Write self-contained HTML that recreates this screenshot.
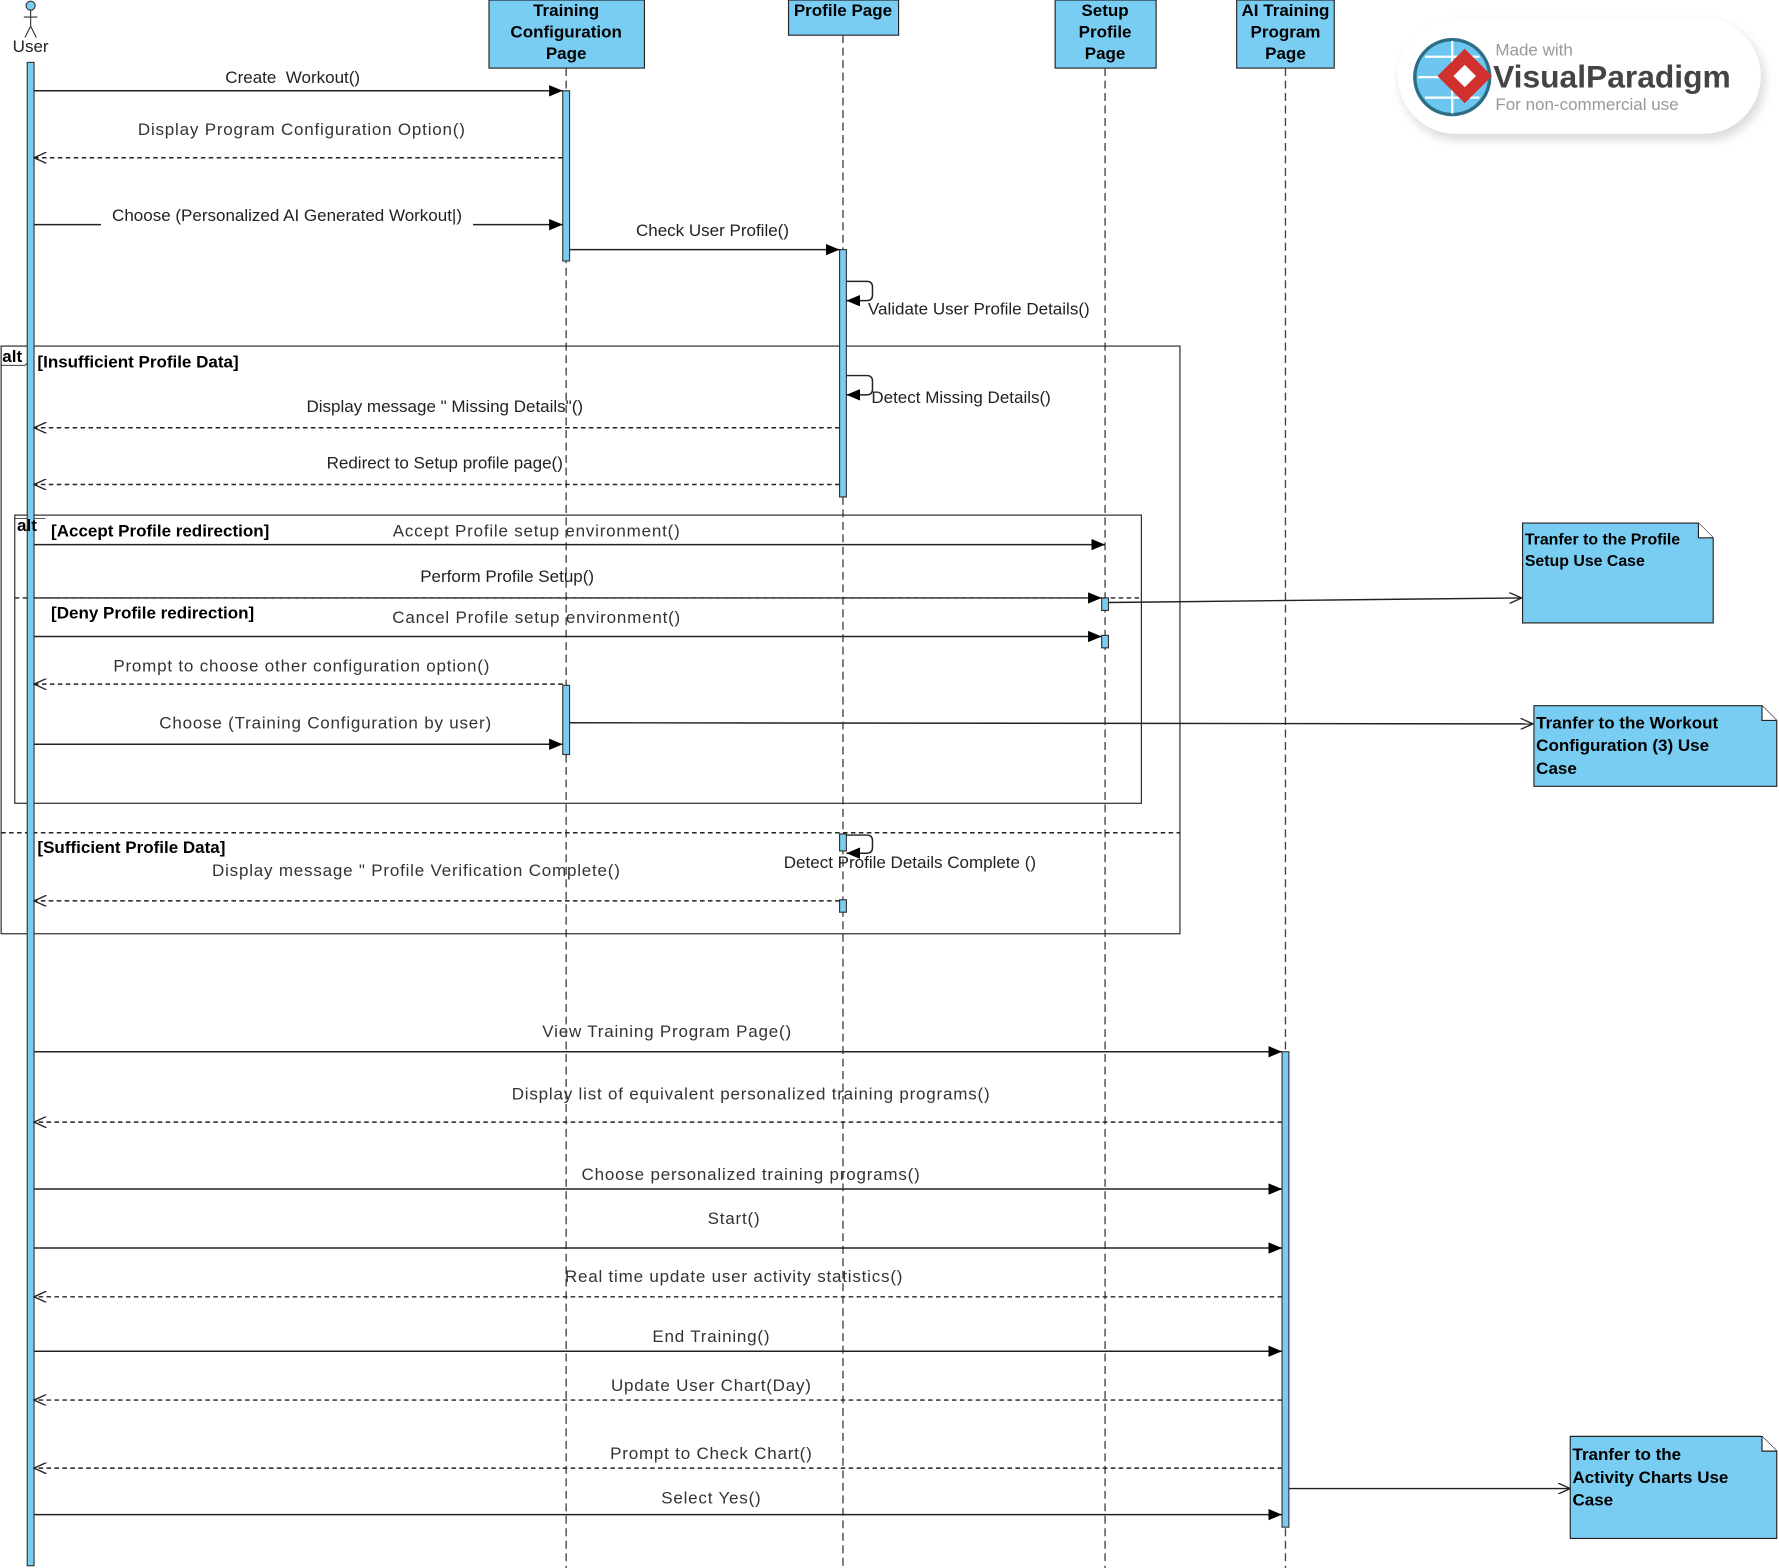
<!DOCTYPE html>
<html><head><meta charset="utf-8"><style>
html,body{margin:0;padding:0;background:#fff;}
svg{display:block;}
text{font-family:"Liberation Sans",sans-serif;font-size:15px;fill:#222;white-space:pre;}
.b{font-weight:bold;fill:#000;}
.c{text-anchor:middle;}
.w{letter-spacing:0.7px;fill:#333;}
.ll{stroke:#444;stroke-width:1.2;stroke-dasharray:7,4;fill:none;}
.s{stroke:#222;stroke-width:1.3;fill:none;}
.d{stroke:#222;stroke-width:1.3;stroke-dasharray:4,3;fill:none;}
.act{fill:#7acdf2;stroke:#333;stroke-width:1;}
.box{fill:#7acdf2;stroke:#222;stroke-width:1;}
</style></head><body>
<svg width="1779" height="1568" viewBox="0 0 1568 1382" xmlns="http://www.w3.org/2000/svg">
<defs>
<marker id="f" markerWidth="12" markerHeight="10" refX="12" refY="5" orient="auto" markerUnits="userSpaceOnUse"><path d="M0,0 L12,5 L0,10 z" fill="#000"/></marker>
<marker id="o" markerWidth="12" markerHeight="10" refX="11" refY="5" orient="auto" markerUnits="userSpaceOnUse"><path d="M0,0 L11,5 L0,10" fill="none" stroke="#222" stroke-width="1.2"/></marker>
<filter id="sh" x="-20%" y="-30%" width="140%" height="160%"><feGaussianBlur stdDeviation="4"/></filter>
</defs>

<!-- logo -->
<rect x="1234" y="20" width="322" height="104" rx="52" fill="#ddd" filter="url(#sh)"/>
<rect x="1232" y="16" width="320" height="102" rx="51" fill="#fff"/>
<circle cx="1280" cy="68" r="33" fill="#6cc6f0" stroke="#2d6e86" stroke-width="3"/>
<path d="M1250,68 H1310 M1280,36 V100 M1256,50 H1304 M1256,86 H1304" stroke="#fff" stroke-width="2"/>
<rect x="1274" y="50" width="34" height="34" transform="rotate(45 1291 67)" fill="#d0312d"/>
<rect x="1284" y="60" width="14" height="14" transform="rotate(45 1291 67)" fill="#fff"/>
<text x="1318" y="49" style="font-size:15px;fill:#999">Made with</text>
<text x="1316" y="77" style="font-size:28px;font-weight:bold;fill:#444">VisualParadigm</text>
<text x="1318" y="97" style="font-size:15px;fill:#999">For non-commercial use</text>

<!-- actor -->
<circle cx="27" cy="5" r="4" fill="#7acdf2" stroke="#333"/>
<path d="M27,9 V23 M21,15 H33 M27,23 L22,33 M27,23 L32,33" stroke="#333" fill="none"/>
<text x="27" y="46" class="c">User</text>

<!-- lifeline heads -->
<rect class="box" x="431" y="0" width="137" height="60"/>
<text x="499" y="14" class="c b">Training</text><text x="499" y="33" class="c b">Configuration</text><text x="499" y="52" class="c b">Page</text>
<rect class="box" x="695" y="0" width="97" height="31"/>
<text x="743" y="14" class="c b">Profile Page</text>
<rect class="box" x="930" y="0" width="89" height="60"/>
<text x="974" y="14" class="c b">Setup</text><text x="974" y="33" class="c b">Profile</text><text x="974" y="52" class="c b">Page</text>
<rect class="box" x="1090" y="0" width="86" height="60"/>
<text x="1133" y="14" class="c b">AI Training</text><text x="1133" y="33" class="c b">Program</text><text x="1133" y="52" class="c b">Page</text>

<!-- lifelines -->
<line class="ll" x1="499" y1="60" x2="499" y2="1382"/>
<line class="ll" x1="743" y1="31" x2="743" y2="1382"/>
<line class="ll" x1="974" y1="60" x2="974" y2="1382"/>
<line class="ll" x1="1133" y1="60" x2="1133" y2="1382"/>

<!-- frames -->
<rect x="1" y="305" width="1039" height="518" fill="none" stroke="#222" stroke-width="1"/>
<path d="M1,322 H22 L30,314 V305" fill="none" stroke="#222" stroke-width="0.8"/>
<text x="33" y="324" class="b">[Insufficient Profile Data]</text>
<line x1="1" y1="734" x2="1040" y2="734" class="d" stroke-width="1"/>
<text x="33" y="752" class="b">[Sufficient Profile Data]</text>

<rect x="13" y="454" width="993" height="254" fill="none" stroke="#222" stroke-width="1"/>
<path d="M13,457 H40" fill="none" stroke="#222" stroke-width="0.6"/>
<text x="45" y="473" class="b">[Accept Profile redirection]</text>
<line x1="13" y1="527" x2="1006" y2="527" class="d" stroke-width="1"/>
<text x="45" y="545" class="b">[Deny Profile redirection]</text>

<!-- activations -->
<rect class="act" x="24" y="55" width="6" height="1325"/>
<rect class="act" x="496" y="80" width="6" height="150"/>
<rect class="act" x="740" y="220" width="6" height="218"/>
<rect class="act" x="740" y="735" width="6" height="15"/>
<rect class="act" x="740" y="793" width="6" height="11"/>
<rect class="act" x="971" y="527" width="6" height="11"/>
<rect class="act" x="971" y="560" width="6" height="11"/>
<rect class="act" x="496" y="604" width="6" height="61"/>
<rect class="act" x="1130" y="927" width="6" height="419"/>

<text x="2" y="319" class="b">alt</text>
<text x="15" y="468" class="b">alt</text>

<!-- messages -->
<line class="s" x1="30" y1="80" x2="496" y2="80" marker-end="url(#f)"/>
<text x="258" y="73" class="c">Create  Workout()</text>
<line class="d" x1="496" y1="139" x2="30" y2="139" marker-end="url(#o)"/>
<text x="266" y="119" class="c w">Display Program Configuration Option()</text>
<line class="s" x1="30" y1="198" x2="496" y2="198" marker-end="url(#f)"/>
<rect x="89" y="181" width="328" height="20" fill="#fff"/>
<text x="253" y="195" class="c">Choose (Personalized AI Generated Workout|)</text>
<line class="s" x1="502" y1="220" x2="740" y2="220" marker-end="url(#f)"/>
<text x="628" y="208" class="c">Check User Profile()</text>
<path class="s" d="M746,248 H764 Q769,248 769,253 V260 Q769,265 764,265 H746" marker-end="url(#f)"/>
<text x="765" y="277">Validate User Profile Details()</text>
<path class="s" d="M746,331 H764 Q769,331 769,336 V343 Q769,348 764,348 H746" marker-end="url(#f)"/>
<text x="768" y="355">Detect Missing Details()</text>
<line class="d" x1="740" y1="377" x2="30" y2="377" marker-end="url(#o)"/>
<text x="392" y="363" class="c">Display message " Missing Details"()</text>
<line class="d" x1="740" y1="427" x2="30" y2="427" marker-end="url(#o)"/>
<text x="392" y="413" class="c">Redirect to Setup profile page()</text>

<line class="s" x1="30" y1="480" x2="974" y2="480" marker-end="url(#f)"/>
<text x="473" y="473" class="c w">Accept Profile setup environment()</text>
<line class="s" x1="30" y1="527" x2="971" y2="527" marker-end="url(#f)" stroke-dasharray="4,3"/>
<text x="447" y="513" class="c">Perform Profile Setup()</text>
<line class="s" x1="30" y1="561" x2="971" y2="561" marker-end="url(#f)"/>
<text x="473" y="549" class="c w">Cancel Profile setup environment()</text>
<line class="d" x1="496" y1="603" x2="30" y2="603" marker-end="url(#o)"/>
<text x="266" y="592" class="c w">Prompt to choose other configuration option()</text>
<line class="s" x1="30" y1="656" x2="496" y2="656" marker-end="url(#f)"/>
<text x="287" y="642" class="c w">Choose (Training Configuration by user)</text>
<line class="s" x1="502" y1="637" x2="1351" y2="638" marker-end="url(#o)" stroke-width="1"/>
<line class="s" x1="977" y1="531" x2="1341" y2="527" marker-end="url(#o)" stroke-width="1"/>

<path class="s" d="M746,736 H764 Q769,736 769,741 V747 Q769,752 764,752 H746" marker-end="url(#f)"/>
<text x="802" y="765" class="c">Detect Profile Details Complete ()</text>
<line class="d" x1="740" y1="794" x2="30" y2="794" marker-end="url(#o)"/>
<text x="367" y="772" class="c w">Display message " Profile Verification Complete()</text>

<line class="s" x1="30" y1="927" x2="1130" y2="927" marker-end="url(#f)"/>
<text x="588" y="914" class="c w">View Training Program Page()</text>
<line class="d" x1="1130" y1="989" x2="30" y2="989" marker-end="url(#o)"/>
<text x="662" y="969" class="c w">Display list of equivalent personalized training programs()</text>
<line class="s" x1="30" y1="1048" x2="1130" y2="1048" marker-end="url(#f)"/>
<text x="662" y="1040" class="c w">Choose personalized training programs()</text>
<line class="s" x1="30" y1="1100" x2="1130" y2="1100" marker-end="url(#f)"/>
<text x="647" y="1079" class="c w">Start()</text>
<line class="d" x1="1130" y1="1143" x2="30" y2="1143" marker-end="url(#o)"/>
<text x="647" y="1130" class="c w">Real time update user activity statistics()</text>
<line class="s" x1="30" y1="1191" x2="1130" y2="1191" marker-end="url(#f)"/>
<text x="627" y="1183" class="c w">End Training()</text>
<line class="d" x1="1130" y1="1234" x2="30" y2="1234" marker-end="url(#o)"/>
<text x="627" y="1226" class="c w">Update User Chart(Day)</text>
<line class="d" x1="1130" y1="1294" x2="30" y2="1294" marker-end="url(#o)"/>
<text x="627" y="1286" class="c w">Prompt to Check Chart()</text>
<line class="s" x1="30" y1="1335" x2="1130" y2="1335" marker-end="url(#f)"/>
<text x="627" y="1325" class="c w">Select Yes()</text>
<line class="s" x1="1136" y1="1312" x2="1384" y2="1312" marker-end="url(#o)" stroke-width="1"/>

<!-- notes -->
<path d="M1342,461 H1497 L1510,474 V549 H1342 Z" fill="#7acdf2" stroke="#222"/>
<path d="M1497,461 V474 H1510" fill="#fff" stroke="#222"/>
<text x="1344" y="480" class="b" style="font-size:14px">Tranfer to the Profile</text>
<text x="1344" y="499" class="b" style="font-size:14px">Setup Use Case</text>

<path d="M1352,622 H1553 L1566,635 V693 H1352 Z" fill="#7acdf2" stroke="#222"/>
<path d="M1553,622 V635 H1566" fill="#fff" stroke="#222"/>
<text x="1354" y="642" class="b">Tranfer to the Workout</text>
<text x="1354" y="662" class="b">Configuration (3) Use</text>
<text x="1354" y="682" class="b">Case</text>

<path d="M1384,1266 H1553 L1566,1279 V1356 H1384 Z" fill="#7acdf2" stroke="#222"/>
<path d="M1553,1266 V1279 H1566" fill="#fff" stroke="#222"/>
<text x="1386" y="1287" class="b">Tranfer to the</text>
<text x="1386" y="1307" class="b">Activity Charts Use</text>
<text x="1386" y="1327" class="b">Case</text>
</svg>
</body></html>
